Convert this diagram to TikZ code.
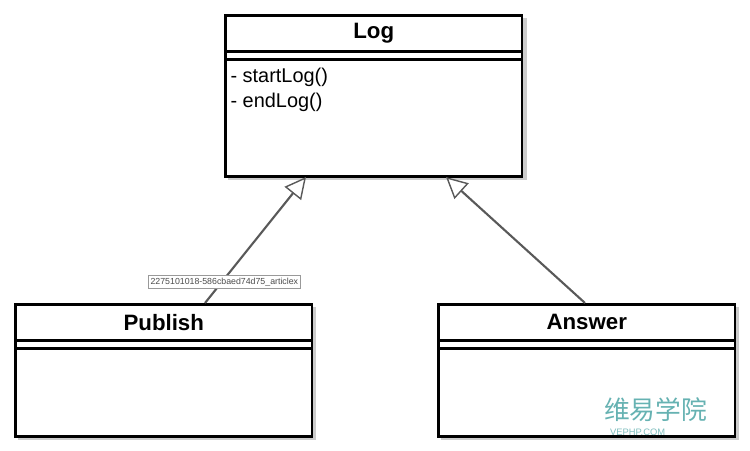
\documentclass[tikz,border=0pt]{standalone}
\usepackage{fontspec}
\setmainfont{Liberation Sans}
\newfontfamily\cjk{Noto Sans CJK SC}
\usetikzlibrary{arrows.meta,positioning,calc}
\begin{document}
\begin{tikzpicture}[x=0.03cm,y=-0.03cm]
\tikzset{title/.style={draw,line width=2.4pt,minimum width=8.9cm,minimum height=1.08cm,inner sep=0pt,font=\fontsize{19}{22}\selectfont\bfseries}}
\tikzset{body/.style={draw,line width=2.4pt,fill=white,minimum width=8.9cm,inner sep=0pt}}
\tikzset{inherit/.style={draw=black!65,line width=1.8pt,-{Triangle[open,length=18pt,width=18pt,fill=white,line width=1.2pt]}}}
\tikzset{shade/.style={fill=black!20,draw=none}}
\useasboundingbox (0,0) rectangle (750,451);
% Log
\fill[shade] (228,18) rectangle (527,180);
\node[body,anchor=north west,minimum height=4.83cm] (logb) at (224,14) {};
\node[title,anchor=north west] (log) at (224,14) {Log};
\draw[line width=2.4pt] ($(log.south west)+(0,7)$) -- ($(log.south east)+(0,7)$);
\node[anchor=north west,align=left,font=\fontsize{17}{22}\selectfont,inner sep=2pt] (ops) at (228,65) {- startLog()\\- endLog()};
% Publish
\fill[shade] (18,307) rectangle (316,440);
\node[body,anchor=north west,minimum height=3.96cm] (pubb) at (14,303) {};
\node[title,anchor=north west] (pub) at (14,303) {Publish};
\draw[line width=2.4pt] ($(pub.south west)+(0,7)$) -- ($(pub.south east)+(0,7)$);
% Answer
\fill[shade] (441,307) rectangle (739,440);
\node[body,anchor=north west,minimum height=3.96cm] (ansb) at (437,303) {};
\node[title,anchor=north west] (ans) at (437,303) {Answer};
\draw[line width=2.4pt] ($(ans.south west)+(0,7)$) -- ($(ans.south east)+(0,7)$);
% Inheritance
\coordinate (lp) at (306,177);
\coordinate (la) at (446,177);
\draw[inherit] ($(pub.north west)+(191,0)$) -- (lp);
\draw[inherit] ($(ans.north west)+(148,0)$) -- (la);
% tooltip
\node[draw=black!40,fill=white,font=\fontsize{7.5}{9}\selectfont,text=black!70,inner sep=2pt,anchor=west] (tip) at (148,282) {2275101018-586cbaed74d75\_articlex};
% watermark
\node[text=teal!60,font=\cjk\fontsize{22}{26}\selectfont,anchor=west] (wm) at (600,410) {维易学院};
\node[text=teal!50,font=\footnotesize,anchor=west] (wm2) at (606,432) {VEPHP.COM};
\end{tikzpicture}
\end{document}
